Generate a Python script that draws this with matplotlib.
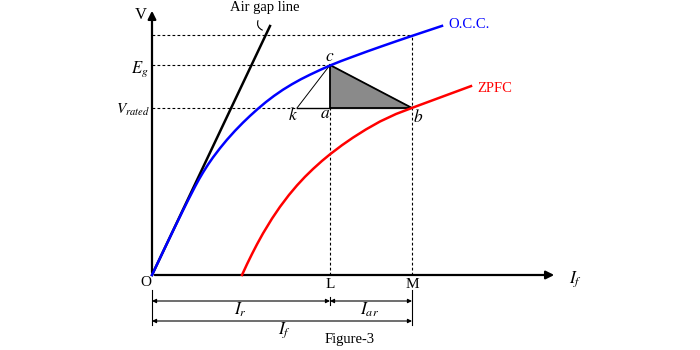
import matplotlib
matplotlib.use('Agg')
import matplotlib.pyplot as plt

plt.rcParams['font.family'] = ['Liberation Serif', 'DejaVu Serif']
plt.rcParams['mathtext.fontset'] = 'stix'

# field current / voltage readings (drawing units)
occ_if = [0, 10, 20, 30, 36, 43, 47, 51, 56, 61, 68, 75, 83, 91, 98, 106, 114, 122,
          131, 140, 149, 158, 168, 178, 189, 200, 215, 230, 245, 260, 275, 290]
occ_v = [0, 21.1, 42.0, 62.6, 74.7, 88.3, 95.7, 102.5, 110.4, 117.6, 126.8, 135.3,
         144.2, 152.4, 159.1, 166.3, 173.0, 179.1, 185.3, 190.8, 195.8, 200.3, 205.0,
         209.5, 213.9, 218.0, 223.5, 228.8, 234.0, 239.1, 244.1, 249.1]
zpfc_if = [90, 95, 100, 105, 111, 120, 128, 137, 145, 153, 161, 170, 178, 190, 201,
           214, 228, 244, 260, 290, 319]
zpfc_v = [0, 10.8, 21.0, 30.7, 41.6, 56.4, 68.2, 80.1, 89.6, 98.2, 106.0, 114.1, 120.7,
          129.8, 137.4, 145.6, 153.5, 161.0, 167.1, 178.2, 188.9]
airgap_if = [0, 118]
airgap_v = [0, 249]

# Potier triangle points
I_L, I_M = 178, 260
E_g, V_rated, V_top = 210, 167, 240
k_if = 145

fig = plt.figure(figsize=(7, 3.5), dpi=100)
ax = fig.add_axes([0, 0, 1, 1])
ax.set_xlim(-152, 548)
ax.set_ylim(-75, 275)
ax.axis('off')

# axes with arrow heads
ax.annotate('', xy=(405, 0), xytext=(0, 0),
            arrowprops=dict(arrowstyle='-|>', lw=1.6, color='k', mutation_scale=12))
ax.annotate('', xy=(0, 267), xytext=(0, 0),
            arrowprops=dict(arrowstyle='-|>', lw=1.6, color='k', mutation_scale=12))

# guide lines
dash = dict(color='k', lw=0.8, ls=(0, (2.5, 2)))
ax.plot([0, I_M], [V_top, V_top], **dash)
ax.plot([0, I_L], [E_g, E_g], **dash)
ax.plot([0, k_if], [V_rated, V_rated], **dash)
ax.plot([I_L, I_L], [0, V_rated], **dash)
ax.plot([I_M, I_M], [0, V_top], **dash)

# triangle
ax.fill([I_L, I_L, I_M], [E_g, V_rated, V_rated], color='#8a8a8a', zorder=2)
ax.plot([I_L, I_L, I_M, I_L], [E_g, V_rated, V_rated, E_g], color='k', lw=1.3, zorder=3)
ax.plot([k_if, I_L], [V_rated, V_rated], color='k', lw=1.0)
ax.plot([k_if, I_L], [V_rated, E_g], color='k', lw=0.7)

# characteristics
ax.plot(airgap_if, airgap_v, color='k', lw=1.8)
ax.plot(occ_if, occ_v, color='#0000ff', lw=1.8, zorder=4)
ax.plot(zpfc_if, zpfc_v, color='#ff0000', lw=1.8, zorder=4)

# pointer to air gap line
ax.annotate('', xy=(113, 244), xytext=(107, 257),
            arrowprops=dict(arrowstyle='-', lw=0.8, color='k',
                            connectionstyle='arc3,rad=0.6'))

ax.text(113, 267, 'Air gap line', fontsize=10.5, ha='center', va='center')
ax.text(296, 250, 'O.C.C.', fontsize=10.5, color='#0000ff', ha='left', va='center')
ax.text(325, 187, 'ZPFC', fontsize=10.5, color='#ff0000', ha='left', va='center')

ax.text(-11, 260, 'V', fontsize=12, ha='center', va='center')
ax.text(-3, 206, r'$E_g$', fontsize=12, ha='right', va='center')
ax.text(-2, 165, r'$V_{rated}$', fontsize=11, ha='right', va='center')
ax.text(424, -4, r'$I_f$', fontsize=12.5, ha='center', va='center')
ax.text(-6, -8, 'O', fontsize=11, ha='center', va='center')
ax.text(I_L, -9, 'L', fontsize=11, ha='center', va='center')
ax.text(I_M, -9, 'M', fontsize=11, ha='center', va='center')

ax.text(I_L, 218, r'$c$', fontsize=12.5, ha='center', va='center')
ax.text(141, 159, r'$k$', fontsize=12.5, ha='center', va='center')
ax.text(173, 161, r'$a$', fontsize=12.5, ha='center', va='center')
ax.text(266, 157, r'$b$', fontsize=12.5, ha='center', va='center')

# dimension lines
ext = dict(color='k', lw=0.8)
ax.plot([0, 0], [-15, -50], **ext)
ax.plot([I_M, I_M], [-15, -50], **ext)
ax.plot([I_L, I_L], [-22, -30], **ext)
dim = dict(arrowstyle='<|-|>', lw=0.8, color='k', mutation_scale=6, shrinkA=0, shrinkB=0)
ax.annotate('', xy=(I_L, -26), xytext=(0, -26), arrowprops=dim)
ax.annotate('', xy=(I_M, -26), xytext=(I_L, -26), arrowprops=dim)
ax.annotate('', xy=(I_M, -46), xytext=(0, -46), arrowprops=dim)
ax.text(88, -35, r'$I_r$', fontsize=12.5, ha='center', va='center')
ax.text(218, -35, r'$I_{ar}$', fontsize=12.5, ha='center', va='center')
ax.text(133, -55, r'$I_f$', fontsize=12.5, ha='center', va='center')
ax.text(198, -65, 'Figure-3', fontsize=10.5, ha='center', va='center')

fig.savefig('out.png', dpi=100)
